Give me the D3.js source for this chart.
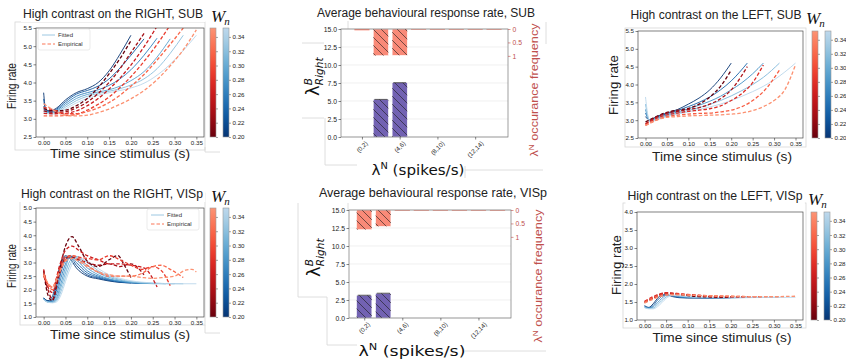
<!DOCTYPE html>
<html>
<head>
<meta charset="utf-8">
<script src="https://cdn.jsdelivr.net/npm/d3@7"></script>
<style>
  body { margin: 0; background: #fff; }
  svg { display: block; font-family: "Liberation Sans", Arial, sans-serif; }
</style>
</head>
<body>
<svg id="fig" width="846" height="359"></svg>
<script>
// ---------------- data ----------------
const timeTicks = [0, 0.05, 0.1, 0.15, 0.2, 0.25, 0.3, 0.35];
const wnTicks = [0.20, 0.22, 0.24, 0.26, 0.28, 0.30, 0.32, 0.34];
const binLabels = ["(0,2)", "(2,4)", "(4,6)", "(6,8)", "(8,10)", "(10,12)", "(12,14)", "(14,16)"];
const shownBins = ["(0,2)", "(4,6)", "(8,10)", "(12,14)"];
const rateTicks = [0, 2.5, 5, 7.5, 10, 12.5, 15];
const freqTicks = [0, 0.5, 1];

// SUB, high contrast on the right
const subRightWn = [0.20, 0.23, 0.26, 0.29, 0.32, 0.35];
const subRightFitted = [
  [[0,3.72],[0.005,3.25],[0.015,3.22],[0.03,3.3],[0.05,3.52],[0.075,3.72],[0.1,3.83],[0.125,4.0],[0.15,4.32],[0.175,4.78],[0.2,5.3]],
  [[0,3.55],[0.005,3.22],[0.015,3.2],[0.03,3.27],[0.05,3.47],[0.075,3.68],[0.1,3.78],[0.125,3.9],[0.15,4.1],[0.175,4.4],[0.2,4.75],[0.23,5.2]],
  [[0,3.35],[0.005,3.2],[0.015,3.18],[0.03,3.24],[0.05,3.42],[0.075,3.62],[0.1,3.72],[0.125,3.8],[0.15,3.92],[0.175,4.1],[0.2,4.35],[0.23,4.75],[0.26,5.22]],
  [[0,3.25],[0.005,3.2],[0.015,3.17],[0.03,3.21],[0.05,3.37],[0.075,3.56],[0.1,3.67],[0.125,3.74],[0.15,3.8],[0.175,3.9],[0.2,4.05],[0.23,4.3],[0.26,4.7],[0.29,5.2]],
  [[0,3.2],[0.005,3.18],[0.015,3.15],[0.03,3.18],[0.05,3.32],[0.075,3.5],[0.1,3.62],[0.125,3.7],[0.15,3.76],[0.175,3.83],[0.2,3.93],[0.23,4.1],[0.26,4.38],[0.29,4.8],[0.32,5.3]],
  [[0,3.18],[0.005,3.16],[0.015,3.13],[0.03,3.15],[0.05,3.27],[0.075,3.44],[0.1,3.56],[0.125,3.65],[0.15,3.72],[0.175,3.78],[0.2,3.85],[0.23,3.98],[0.26,4.2],[0.29,4.5],[0.32,4.88],[0.35,5.3]]
];
const subRightEmpirical = [
  [[0,3.28],[0.025,3.22],[0.05,3.24],[0.075,3.36],[0.1,3.56],[0.125,3.86],[0.15,4.24],[0.175,4.66],[0.2,5.15]],
  [[0,3.22],[0.025,3.18],[0.05,3.2],[0.075,3.3],[0.1,3.46],[0.125,3.7],[0.15,4.0],[0.175,4.38],[0.2,4.82],[0.23,5.35]],
  [[0,3.15],[0.025,3.14],[0.05,3.15],[0.075,3.22],[0.1,3.36],[0.125,3.56],[0.15,3.82],[0.175,4.12],[0.2,4.48],[0.23,4.98],[0.26,5.55]],
  [[0,3.32],[0.025,3.24],[0.05,3.14],[0.075,3.14],[0.1,3.24],[0.125,3.4],[0.15,3.6],[0.175,3.86],[0.2,4.16],[0.23,4.58],[0.26,5.05],[0.29,5.58]],
  [[0,3.08],[0.025,3.08],[0.05,3.09],[0.075,3.12],[0.1,3.2],[0.125,3.3],[0.15,3.45],[0.175,3.65],[0.2,3.9],[0.23,4.22],[0.26,4.62],[0.29,5.05],[0.32,5.5]],
  [[0,3.42],[0.025,3.22],[0.05,3.1],[0.075,3.08],[0.1,3.1],[0.125,3.17],[0.15,3.27],[0.175,3.4],[0.2,3.55],[0.23,3.78],[0.26,4.08],[0.29,4.46],[0.32,4.9],[0.35,5.45]]
];

// SUB, high contrast on the left
const subLeftWn = [0.20, 0.2375, 0.275, 0.3125, 0.35];
const subLeftFitted = [
  [[0,3.1],[0.01,3.0],[0.025,3.1],[0.05,3.2],[0.075,3.3],[0.1,3.45],[0.125,3.62],[0.15,3.85],[0.175,4.18],[0.2,4.6]],
  [[0,3.2],[0.01,3.0],[0.025,3.08],[0.05,3.18],[0.075,3.27],[0.1,3.38],[0.125,3.5],[0.15,3.65],[0.175,3.85],[0.2,4.1],[0.2375,4.6]],
  [[0,3.3],[0.01,2.98],[0.025,3.05],[0.05,3.15],[0.075,3.23],[0.1,3.32],[0.125,3.42],[0.15,3.53],[0.175,3.67],[0.2,3.85],[0.225,4.05],[0.25,4.3],[0.275,4.6]],
  [[0,3.45],[0.01,2.97],[0.025,3.02],[0.05,3.12],[0.075,3.2],[0.1,3.27],[0.125,3.35],[0.15,3.44],[0.175,3.55],[0.2,3.68],[0.225,3.83],[0.25,4.0],[0.275,4.2],[0.3125,4.6]],
  [[0,3.65],[0.01,2.95],[0.025,3.0],[0.05,3.1],[0.075,3.17],[0.1,3.23],[0.125,3.3],[0.15,3.37],[0.175,3.45],[0.2,3.55],[0.225,3.67],[0.25,3.8],[0.275,3.95],[0.3,4.13],[0.325,4.35],[0.35,4.6]]
];
const subLeftEmpirical = [
  [[0,2.95],[0.025,3.1],[0.05,3.22],[0.075,3.28],[0.1,3.33],[0.125,3.45],[0.15,3.65],[0.175,3.95],[0.2,4.4]],
  [[0,2.9],[0.025,3.08],[0.05,3.2],[0.075,3.25],[0.1,3.3],[0.125,3.35],[0.15,3.45],[0.175,3.6],[0.2,3.85],[0.2375,4.5]],
  [[0,2.88],[0.025,3.05],[0.05,3.15],[0.075,3.2],[0.1,3.25],[0.125,3.28],[0.15,3.32],[0.175,3.4],[0.2,3.55],[0.225,3.75],[0.25,4.05],[0.275,4.55]],
  [[0,2.85],[0.025,3.0],[0.05,3.1],[0.075,3.14],[0.1,3.17],[0.125,3.19],[0.15,3.2],[0.175,3.23],[0.2,3.28],[0.225,3.38],[0.25,3.55],[0.275,3.8],[0.3125,4.4]],
  [[0,2.85],[0.025,3.0],[0.05,3.08],[0.075,3.1],[0.1,3.12],[0.125,3.13],[0.15,3.14],[0.175,3.15],[0.2,3.17],[0.225,3.2],[0.25,3.27],[0.275,3.38],[0.3,3.55],[0.325,3.85],[0.35,4.55]]
];

// VISp, high contrast on the right
const vispRightFittedWn = [0.20, 0.22, 0.24, 0.26, 0.28, 0.30, 0.32, 0.35];
const vispRightFitted = [
  [[0,1.7],[0.01,1.6],[0.02,1.75],[0.03,2.4],[0.04,3.0],[0.05,3.25],[0.06,3.15],[0.075,2.8],[0.1,2.5],[0.125,2.4],[0.15,2.32],[0.175,2.27],[0.2,2.25]],
  [[0,1.7],[0.01,1.58],[0.02,1.65],[0.03,2.2],[0.04,2.85],[0.05,3.2],[0.06,3.2],[0.075,2.9],[0.1,2.55],[0.125,2.43],[0.15,2.34],[0.175,2.28],[0.2,2.25],[0.22,2.23]],
  [[0,1.68],[0.01,1.57],[0.02,1.6],[0.03,2.0],[0.04,2.65],[0.05,3.1],[0.06,3.25],[0.075,3.0],[0.1,2.62],[0.125,2.46],[0.15,2.36],[0.175,2.3],[0.2,2.26],[0.24,2.23]],
  [[0,1.68],[0.01,1.56],[0.02,1.57],[0.03,1.85],[0.04,2.45],[0.05,2.95],[0.06,3.25],[0.075,3.1],[0.1,2.7],[0.125,2.5],[0.15,2.38],[0.175,2.3],[0.2,2.26],[0.26,2.22]],
  [[0,1.66],[0.01,1.55],[0.02,1.55],[0.03,1.72],[0.04,2.25],[0.05,2.8],[0.06,3.2],[0.075,3.17],[0.1,2.8],[0.125,2.55],[0.15,2.4],[0.175,2.32],[0.2,2.27],[0.25,2.23],[0.28,2.22]],
  [[0,1.65],[0.01,1.55],[0.02,1.54],[0.03,1.65],[0.04,2.1],[0.05,2.62],[0.06,3.05],[0.075,3.22],[0.1,2.9],[0.125,2.62],[0.15,2.45],[0.175,2.35],[0.2,2.28],[0.25,2.23],[0.3,2.22]],
  [[0,1.65],[0.01,1.54],[0.02,1.53],[0.03,1.6],[0.04,1.95],[0.05,2.45],[0.06,2.9],[0.075,3.22],[0.1,3.0],[0.125,2.7],[0.15,2.5],[0.175,2.38],[0.2,2.3],[0.25,2.24],[0.32,2.22]],
  [[0,1.64],[0.01,1.54],[0.02,1.52],[0.03,1.56],[0.04,1.82],[0.05,2.3],[0.06,2.75],[0.075,3.15],[0.1,3.05],[0.125,2.78],[0.15,2.55],[0.175,2.42],[0.2,2.33],[0.25,2.25],[0.3,2.22],[0.35,2.22]]
];
const vispRightEmpiricalWn = [0.20, 0.23, 0.26, 0.29, 0.32, 0.35];
const vispRightEmpirical = [
  [[0,2.7],[0.01,1.8],[0.02,1.6],[0.035,2.6],[0.05,3.6],[0.065,3.95],[0.08,3.6],[0.1,3.05],[0.125,2.85],[0.15,3.1],[0.17,3.25],[0.185,2.9],[0.2,2.45]],
  [[0,2.6],[0.01,2.0],[0.02,1.65],[0.035,2.5],[0.05,3.15],[0.065,3.2],[0.08,3.1],[0.1,3.0],[0.125,2.9],[0.15,2.95],[0.175,2.85],[0.2,2.95],[0.23,2.55]],
  [[0,2.75],[0.01,2.1],[0.02,1.9],[0.035,2.8],[0.05,3.45],[0.065,3.6],[0.08,3.45],[0.1,3.25],[0.125,3.1],[0.15,2.95],[0.175,2.95],[0.2,2.9],[0.23,2.8],[0.26,2.1]],
  [[0,2.5],[0.01,2.2],[0.02,2.1],[0.035,2.7],[0.05,3.2],[0.065,3.25],[0.08,3.2],[0.1,3.15],[0.125,3.1],[0.15,3.25],[0.175,3.1],[0.2,2.9],[0.225,2.75],[0.25,2.85],[0.27,2.7],[0.29,2.15]],
  [[0,2.6],[0.01,2.2],[0.02,2.0],[0.035,2.6],[0.05,3.1],[0.065,3.25],[0.08,3.15],[0.1,2.9],[0.125,2.65],[0.15,2.5],[0.175,2.5],[0.2,2.5],[0.225,2.6],[0.25,2.85],[0.27,2.9],[0.29,2.75],[0.32,2.45]],
  [[0,2.55],[0.01,2.25],[0.02,2.1],[0.035,2.6],[0.05,3.05],[0.065,3.15],[0.08,3.05],[0.1,2.85],[0.125,2.65],[0.15,2.55],[0.175,2.5],[0.2,2.5],[0.225,2.45],[0.25,2.42],[0.275,2.45],[0.3,2.5],[0.325,2.72],[0.34,2.75],[0.35,2.65]]
];

// VISp, high contrast on the left
const vispLeftWn = [0.20, 0.2375, 0.275, 0.3125, 0.35];
const vispLeftFitted = [
  [[0,1.4],[0.01,1.35],[0.02,1.45],[0.03,1.6],[0.04,1.7],[0.05,1.7],[0.065,1.65],[0.08,1.62],[0.1,1.61],[0.15,1.61],[0.2,1.62]],
  [[0,1.38],[0.01,1.34],[0.02,1.4],[0.03,1.55],[0.04,1.66],[0.05,1.7],[0.065,1.67],[0.08,1.63],[0.1,1.62],[0.15,1.61],[0.2,1.62],[0.2375,1.63]],
  [[0,1.36],[0.01,1.33],[0.02,1.36],[0.03,1.48],[0.04,1.6],[0.05,1.68],[0.065,1.68],[0.08,1.65],[0.1,1.63],[0.15,1.62],[0.2,1.62],[0.275,1.63]],
  [[0,1.35],[0.01,1.32],[0.02,1.33],[0.03,1.42],[0.04,1.54],[0.05,1.64],[0.065,1.69],[0.08,1.67],[0.1,1.64],[0.15,1.62],[0.2,1.62],[0.3125,1.63]],
  [[0,1.34],[0.01,1.31],[0.02,1.31],[0.03,1.37],[0.04,1.48],[0.05,1.6],[0.065,1.68],[0.08,1.68],[0.1,1.65],[0.15,1.63],[0.2,1.62],[0.35,1.63]]
];
const vispLeftEmpirical = [
  [[0,1.5],[0.02,1.62],[0.04,1.73],[0.05,1.75],[0.075,1.72],[0.1,1.68],[0.125,1.65],[0.15,1.64],[0.175,1.63],[0.2,1.64]],
  [[0,1.48],[0.02,1.6],[0.04,1.72],[0.05,1.74],[0.075,1.72],[0.1,1.7],[0.125,1.67],[0.15,1.65],[0.175,1.64],[0.2,1.64],[0.2375,1.65]],
  [[0,1.52],[0.02,1.65],[0.04,1.74],[0.05,1.76],[0.075,1.74],[0.1,1.71],[0.125,1.69],[0.15,1.67],[0.175,1.66],[0.2,1.65],[0.25,1.65],[0.275,1.65]],
  [[0,1.5],[0.02,1.62],[0.04,1.7],[0.05,1.72],[0.075,1.72],[0.1,1.7],[0.125,1.68],[0.15,1.67],[0.2,1.66],[0.25,1.65],[0.3125,1.65]],
  [[0,1.47],[0.02,1.58],[0.04,1.66],[0.05,1.69],[0.075,1.7],[0.1,1.69],[0.125,1.68],[0.15,1.67],[0.2,1.66],[0.25,1.65],[0.3,1.65],[0.35,1.66]]
];

// average behavioural response rate per lambda^N bin
const subRate = [0, 5.22, 7.54, 0, 0, 0, 0, 0];
const subFreq = [0.05, 0.99, 0.98, 0, 0, 0, 0, 0];
const vispRate = [3.16, 3.44, 0, 0, 0, 0, 0, 0];
const vispFreq = [0.73, 0.61, 0, 0, 0, 0, 0, 0];

// ---------------- drawing ----------------
const svg = d3.select("#fig");
const defs = svg.append("defs");
const GRID = "#d6d6d6";
const FRAME = "#4a4a4a";
const TICK_FONT = 6.2;

defs.append("pattern")
  .attr("id", "hatch")
  .attr("patternUnits", "userSpaceOnUse")
  .attr("width", 8).attr("height", 8)
  .append("path")
    .attr("d", "M-2,6 L2,10 M0,0 L8,8 M6,-2 L10,2")
    .attr("stroke", "#1a1a1a")
    .attr("stroke-width", 0.6);

const blueOf = wn => d3.interpolateBlues(0.98 - (wn - 0.2) / 0.15 * 0.7);
const redOf = wn => d3.interpolateReds(1.0 - (wn - 0.2) / 0.15 * 0.62);

// light gray frames left over from the composed figure
const frameRects = [[15, 22, 190, 128], [625, 28, 181, 119], [20, 193, 185, 132], [623, 203, 183, 125]];
const frameSegs = [[302, 43, 324, 43], [302, 118, 324, 118], [325, 118, 325, 165], [325, 165, 357, 165],
  [465, 170, 543, 170], [465, 166, 465, 178], [348, 20, 348, 29], [546, 22, 546, 44],
  [298, 203, 298, 297], [298, 297, 327, 297], [327, 297, 327, 345], [327, 345, 357, 345],
  [465, 351, 546, 351], [348, 203, 348, 210], [205, 147, 205, 152], [205, 152, 220, 152],
  [205, 325, 205, 333], [205, 333, 220, 333]];
const artifacts = svg.append("g").attr("stroke", GRID).attr("stroke-width", 0.8).attr("fill", "none");
frameRects.forEach(r => artifacts.append("rect").attr("x", r[0]).attr("y", r[1]).attr("width", r[2]).attr("height", r[3]));
frameSegs.forEach(s => artifacts.append("line").attr("x1", s[0]).attr("y1", s[1]).attr("x2", s[2]).attr("y2", s[3]));

function styleAxis(g) {
  g.select(".domain").remove();
  g.selectAll(".tick line").attr("stroke", "#333").attr("stroke-width", 0.6);
  g.selectAll(".tick text").attr("font-size", TICK_FONT).attr("fill", "#222")
    .attr("font-family", "'Liberation Sans', Arial, sans-serif");
}

function title(txt, cx, base, width) {
  const t = svg.append("text")
    .attr("x", cx).attr("y", base)
    .attr("text-anchor", "middle")
    .attr("font-size", 12)
    .attr("fill", "#222")
    .attr("textLength", width)
    .attr("lengthAdjust", "spacingAndGlyphs")
    .text(txt);
  const b = t.node().getBBox();
  svg.insert("rect", () => t.node())
    .attr("x", b.x - 2).attr("y", b.y - 1).attr("width", b.width + 4).attr("height", b.height + 2)
    .attr("fill", "#fff");
}

function plainLabel(txt, x, y, size, len, rotate) {
  return svg.append("text")
    .attr("transform", `translate(${x},${y})` + (rotate ? " rotate(-90)" : ""))
    .attr("text-anchor", "middle")
    .attr("font-size", size)
    .attr("fill", "#222")
    .attr("textLength", len)
    .attr("lengthAdjust", "spacingAndGlyphs")
    .text(txt);
}

function wnLabel(x, y) {
  const t = svg.append("text")
    .attr("x", x).attr("y", y)
    .attr("font-family", "'Liberation Serif', 'DejaVu Serif', serif")
    .attr("font-style", "italic")
    .attr("font-size", 17)
    .attr("fill", "#111");
  t.append("tspan").text("W");
  t.append("tspan").attr("font-size", 11).attr("dy", 3).attr("dx", -1).text("n");
}

function colorbar(x0, y0, y1, gid) {
  const cb = d3.scaleLinear().domain([0.20, 0.3525]).range([y1, y0]);
  [["r", redOf, x0], ["b", blueOf, x0 + 13]].forEach(([k, fn, bx]) => {
    const grad = defs.append("linearGradient").attr("id", gid + k)
      .attr("x1", 0).attr("y1", 1).attr("x2", 0).attr("y2", 0);
    d3.range(0, 1.0001, 0.1).forEach(f => {
      grad.append("stop").attr("offset", f).attr("stop-color", fn(0.20 + f * 0.1525));
    });
    svg.append("rect")
      .attr("x", bx).attr("y", y0).attr("width", 6).attr("height", y1 - y0)
      .attr("fill", `url(#${gid + k})`)
      .attr("stroke", "#999").attr("stroke-width", 0.6);
    const ax = svg.append("g").attr("transform", `translate(${bx + 6},0)`)
      .call(d3.axisRight(cb).tickValues(wnTicks).tickSize(2).tickPadding(1.5)
        .tickFormat(k === "b" ? d3.format(".2f") : () => ""));
    styleAxis(ax);
    ax.selectAll(".tick line").attr("stroke", "#666");
  });
}

function legend(x, y) {
  const g = svg.append("g").attr("transform", `translate(${x},${y})`);
  g.append("rect").attr("width", 52).attr("height", 21).attr("rx", 2)
    .attr("fill", "#fff").attr("fill-opacity", 0.85).attr("stroke", "#ddd").attr("stroke-width", 0.6);
  g.append("line").attr("x1", 4).attr("x2", 17).attr("y1", 6).attr("y2", 6)
    .attr("stroke", blueOf(0.33)).attr("stroke-width", 1);
  g.append("line").attr("x1", 4).attr("x2", 17).attr("y1", 15).attr("y2", 15)
    .attr("stroke", redOf(0.33)).attr("stroke-width", 1.2).attr("stroke-dasharray", "3.5,2");
  g.append("text").attr("x", 20).attr("y", 8.2).attr("font-size", 6).attr("fill", "#333").text("Fitted");
  g.append("text").attr("x", 20).attr("y", 17.2).attr("font-size", 6).attr("fill", "#333").text("Empirical");
}

let clipId = 0;
function linePanel(cfg) {
  const { box, yDomain, yStep, fitted, fittedWn, empirical, empiricalWn } = cfg;
  const x = d3.scaleLinear().domain([-0.0175, 0.3675]).range([box[0], box[1]]);
  const y = d3.scaleLinear().domain(yDomain).range([box[3], box[2]]);
  const yTicks = d3.range(yDomain[0], yDomain[1] + 1e-9, yStep);

  const cid = "clip" + (clipId++);
  defs.append("clipPath").attr("id", cid).append("rect")
    .attr("x", box[0]).attr("y", box[2]).attr("width", box[1] - box[0]).attr("height", box[3] - box[2]);

  svg.append("rect")
    .attr("x", box[0]).attr("y", box[2]).attr("width", box[1] - box[0]).attr("height", box[3] - box[2])
    .attr("fill", "#fff");

  const line = d3.line().x(d => x(d[0])).y(d => y(d[1])).curve(d3.curveMonotoneX);
  const plot = svg.append("g").attr("clip-path", `url(#${cid})`).attr("fill", "none");
  plot.selectAll("path.fit").data(fitted).join("path")
    .attr("class", "fit")
    .attr("d", line)
    .attr("stroke", (d, i) => blueOf(fittedWn[i]))
    .attr("stroke-width", 0.9);
  plot.selectAll("path.emp").data(empirical).join("path")
    .attr("class", "emp")
    .attr("d", line)
    .attr("stroke", (d, i) => redOf(empiricalWn[i]))
    .attr("stroke-width", 1.3)
    .attr("stroke-dasharray", "3.5,2");

  svg.append("rect")
    .attr("x", box[0]).attr("y", box[2]).attr("width", box[1] - box[0]).attr("height", box[3] - box[2])
    .attr("fill", "none").attr("stroke", FRAME).attr("stroke-width", 0.7);

  const xa = svg.append("g").attr("transform", `translate(0,${box[3]})`)
    .call(d3.axisBottom(x).tickValues(timeTicks).tickFormat(d3.format(".2f")).tickSize(2.5).tickPadding(1));
  styleAxis(xa);
  const ya = svg.append("g").attr("transform", `translate(${box[0]},0)`)
    .call(d3.axisLeft(y).tickValues(yTicks).tickFormat(d3.format(".1f")).tickSize(2.5).tickPadding(1.5));
  styleAxis(ya);
}

function barPanel(cfg) {
  const { box, xDomain, rate, freq } = cfg;
  const x = d3.scaleLinear().domain(xDomain).range([box[0], box[1]]);
  const y = d3.scaleLinear().domain([0, 15]).range([box[3], box[2]]);
  const yr = d3.scaleLinear().domain([0, 4.02]).range([box[2], box[3]]);
  const bw = x(0.4) - x(0);

  const grid = svg.append("g");
  rateTicks.forEach(v => grid.append("line")
    .attr("x1", box[0]).attr("x2", box[1]).attr("y1", y(v)).attr("y2", y(v))
    .attr("stroke", "#e6e6e6").attr("stroke-width", 0.6));

  binLabels.forEach((lab, i) => {
    if (rate[i] > 0) {
      svg.append("rect")
        .attr("x", x(i) - bw).attr("y", y(rate[i])).attr("width", 2 * bw).attr("height", y(0) - y(rate[i]))
        .attr("fill", "#7262b2").attr("stroke", "#ffffff").attr("stroke-width", 0.5);
      svg.append("rect")
        .attr("x", x(i) - bw).attr("y", y(rate[i])).attr("width", 2 * bw).attr("height", y(0) - y(rate[i]))
        .attr("fill", "url(#hatch)");
      svg.append("line")
        .attr("x1", x(i) - bw * 0.85).attr("x2", x(i) + bw * 0.85)
        .attr("y1", y(rate[i])).attr("y2", y(rate[i]))
        .attr("stroke", "#333").attr("stroke-width", 0.8);
    }
    const h = Math.max(yr(freq[i]) - yr(0), 0.7);
    svg.append("rect")
      .attr("x", x(i) - bw).attr("y", yr(0)).attr("width", 2 * bw).attr("height", h)
      .attr("fill", "#f98a78").attr("stroke", "#ffffff").attr("stroke-width", freq[i] > 0.2 ? 0.5 : 0);
    if (freq[i] > 0.2) {
      svg.append("rect")
        .attr("x", x(i) - bw).attr("y", yr(0)).attr("width", 2 * bw).attr("height", h)
        .attr("fill", "url(#hatch)");
    }
  });

  svg.append("rect")
    .attr("x", box[0]).attr("y", box[2]).attr("width", box[1] - box[0]).attr("height", box[3] - box[2])
    .attr("fill", "none").attr("stroke", "#777").attr("stroke-width", 0.7);

  const ya = svg.append("g").attr("transform", `translate(${box[0]},0)`)
    .call(d3.axisLeft(y).tickValues(rateTicks).tickFormat(d3.format(".1f")).tickSize(2.5).tickPadding(1.5));
  styleAxis(ya);
  ya.selectAll(".tick text").attr("font-size", 6.8);

  const ra = svg.append("g").attr("transform", `translate(${box[1]},0)`)
    .call(d3.axisRight(yr).tickValues(freqTicks).tickFormat(d => d === 0.5 ? "0.5" : String(d)).tickSize(2.5).tickPadding(2));
  styleAxis(ra);
  ra.selectAll(".tick line").attr("stroke", "#c0504d");
  ra.selectAll(".tick text").attr("fill", "#c0504d").attr("font-size", 6.8);

  const xa = svg.append("g").attr("transform", `translate(0,${box[3]})`)
    .call(d3.axisBottom(x).tickValues(shownBins.map(b => binLabels.indexOf(b))).tickFormat(() => "").tickSize(2.5));
  styleAxis(xa);
  shownBins.forEach(lab => {
    const i = binLabels.indexOf(lab);
    const t = svg.append("text")
      .attr("font-size", 6.3).attr("fill", "#222")
      .attr("text-anchor", "middle").attr("dominant-baseline", "central")
      .text(lab);
    const L = t.node().getComputedTextLength();
    t.attr("transform", `translate(${x(i)},${box[3] + 3 + (L + 6) * 0.3536}) rotate(-45)`);
  });
}

function lambdaY(x, y) {
  const t = svg.append("text")
    .attr("transform", `translate(${x},${y}) rotate(-90)`)
    .attr("font-family", "'DejaVu Sans', sans-serif")
    .attr("font-size", 18).attr("fill", "#111");
  t.append("tspan").text("λ");
  t.append("tspan").attr("font-size", 10.5).attr("font-style", "italic").attr("dy", -7).text("B");
  t.append("tspan").attr("font-size", 10.5).attr("font-style", "italic").attr("dx", -7).attr("dy", 11).text("Right");
}

function lambdaX(cx, base, size, len) {
  const t = svg.append("text")
    .attr("x", cx).attr("y", base)
    .attr("text-anchor", "middle")
    .attr("font-family", "'DejaVu Sans', sans-serif")
    .attr("font-size", size).attr("fill", "#111")
    .attr("textLength", len).attr("lengthAdjust", "spacingAndGlyphs");
  t.append("tspan").text("λ");
  t.append("tspan").attr("font-size", size * 0.65).attr("dy", -size * 0.42).text("N");
  t.append("tspan").attr("dy", size * 0.42).text(" (spikes/s)");
}

function freqLabel(x, cy, len) {
  const t = svg.append("text")
    .attr("transform", `translate(${x},${cy}) rotate(-90)`)
    .attr("text-anchor", "middle")
    .attr("font-size", 11.5).attr("fill", "#c0504d")
    .attr("textLength", len).attr("lengthAdjust", "spacingAndGlyphs");
  t.append("tspan").text("λ");
  t.append("tspan").attr("font-size", 7.5).attr("dy", -4.5).text("N");
  t.append("tspan").attr("dy", 4.5).text(" occurance frequency");
}

// ----- top-left: SUB, right -----
linePanel({ box: [36, 204, 28, 137], yDomain: [2.5, 5.5], yStep: 0.5,
  fitted: subRightFitted, fittedWn: subRightWn, empirical: subRightEmpirical, empiricalWn: subRightWn });
legend(38, 29);
colorbar(210, 28, 137, "cb1");
title("High contrast on the RIGHT, SUB", 113, 18, 180);
wnLabel(211, 22);
plainLabel("Firing rate", 16, 86, 13, 46, true);
plainLabel("Time since stimulus (s)", 120, 158, 13.5, 140, false);

// ----- top-middle: SUB bars -----
barPanel({ box: [341, 508, 29, 137], xDomain: [-1.11, 7.74], rate: subRate, freq: subFreq });
title("Average behavioural response rate, SUB", 426, 17, 218);
lambdaY(319, 96);
lambdaX(418, 175, 14, 93);
freqLabel(538, 90, 133);

// ----- top-right: SUB, left -----
linePanel({ box: [638, 803, 31, 138], yDomain: [2.5, 5.5], yStep: 0.5,
  fitted: subLeftFitted, fittedWn: subLeftWn, empirical: subLeftEmpirical, empiricalWn: subLeftWn });
colorbar(812, 31, 138, "cb3");
title("High contrast on the LEFT, SUB", 716, 19, 171);
wnLabel(806, 24);
plainLabel("Firing rate", 618, 85, 13, 60, true);
plainLabel("Time since stimulus (s)", 722, 161, 13.5, 140, false);

// ----- bottom-left: VISp, right -----
linePanel({ box: [36, 204, 208, 317], yDomain: [1.0, 5.0], yStep: 0.5,
  fitted: vispRightFitted, fittedWn: vispRightFittedWn, empirical: vispRightEmpirical, empiricalWn: vispRightEmpiricalWn });
legend(147, 209);
colorbar(210, 208, 317, "cb4");
title("High contrast on the RIGHT, VISp", 112, 198, 182);
wnLabel(211, 202);
plainLabel("Firing rate", 16, 266, 13, 44, true);
plainLabel("Time since stimulus (s)", 120, 338.5, 13.5, 140, false);

// ----- bottom-middle: VISp bars -----
barPanel({ box: [349, 511, 210, 318], xDomain: [-0.8, 7.71], rate: vispRate, freq: vispFreq });
title("Average behavioural response rate, VISp", 433, 197, 228);
lambdaY(320, 277);
lambdaX(412, 356, 14, 107);
freqLabel(542, 276, 133);

// ----- bottom-right: VISp, left -----
linePanel({ box: [637, 803, 212, 320], yDomain: [1.0, 4.0], yStep: 0.5,
  fitted: vispLeftFitted, fittedWn: vispLeftWn, empirical: vispLeftEmpirical, empiricalWn: vispLeftWn });
colorbar(811, 212, 320, "cb6");
title("High contrast on the LEFT, VISp", 715, 200, 175);
wnLabel(808, 205);
plainLabel("Firing rate", 621, 265, 13, 60, true);
plainLabel("Time since stimulus (s)", 722, 342, 13.5, 139, false);
</script>
</body>
</html>
